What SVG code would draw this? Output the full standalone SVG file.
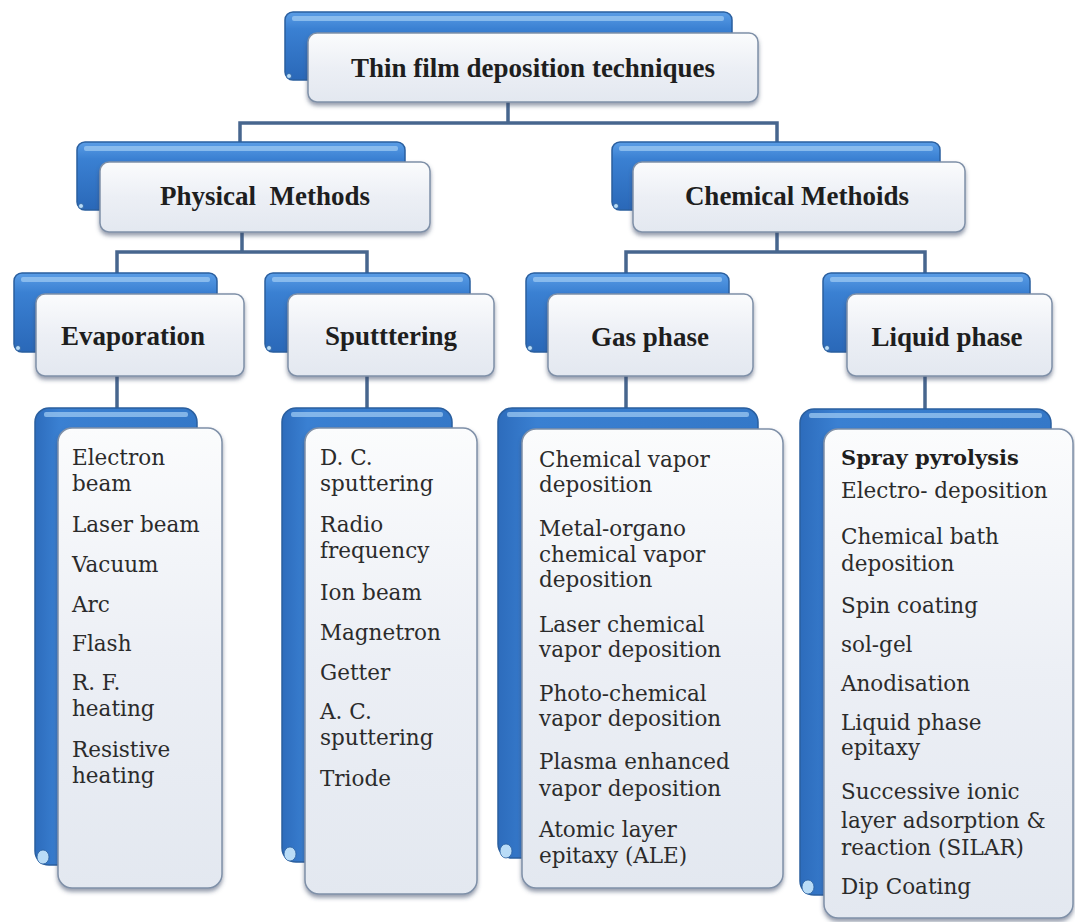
<svg xmlns="http://www.w3.org/2000/svg" width="1075" height="922" viewBox="0 0 1075 922">
<style>
.back{fill:url(#blueG);stroke:#2a5f9f;stroke-width:1.5}
.backL{fill:url(#blueL);stroke:#2a5f9f;stroke-width:1.5}
.hl{fill:#9cc8f2;opacity:0.75}
.curl{fill:#b9dcf7;stroke:#2a5f9f;stroke-width:0.8}
.front{fill:url(#whiteG);stroke:#7f90a8;stroke-width:1.5;filter:url(#sh)}
.hdr{font-family:"Liberation Serif",serif;font-weight:bold;font-size:27px;fill:#1e1e1e;text-anchor:middle}
.itm{font-family:"DejaVu Serif","Liberation Serif",serif;font-size:21.5px;fill:#2b2b2b}
.itm .b{font-weight:bold;font-size:21px;fill:#1e1e1e}
.conn{stroke:#47668e;stroke-width:3.5;fill:none}
</style>
<defs>
<linearGradient id="blueG" x1="0" y1="0" x2="0" y2="1">
<stop offset="0" stop-color="#5a9de6"/>
<stop offset="0.25" stop-color="#3a80d2"/>
<stop offset="1" stop-color="#2a68b8"/>
</linearGradient>
<linearGradient id="blueL" x1="0" y1="0" x2="1" y2="0">
<stop offset="0" stop-color="#2d6cbc"/>
<stop offset="0.15" stop-color="#3a80d2"/>
<stop offset="1" stop-color="#3478c8"/>
</linearGradient>
<linearGradient id="whiteG" x1="0" y1="0" x2="0" y2="1">
<stop offset="0" stop-color="#fbfcfd"/>
<stop offset="0.5" stop-color="#eceff5"/>
<stop offset="1" stop-color="#e3e8f0"/>
</linearGradient>
<filter id="sh" x="-10%" y="-10%" width="120%" height="130%">
<feDropShadow dx="0" dy="3" stdDeviation="2" flood-color="#3a4a66" flood-opacity="0.55"/>
</filter>
</defs>
<rect width="1075" height="922" fill="#ffffff"/>

<g id="connectors">
<path class="conn" d="M508 102V123M240 142V123H777V142"/>
<path class="conn" d="M242 232V252M117 273V252H367V273"/>
<path class="conn" d="M777 232V252M626 273V252H925V273"/>
<path class="conn" d="M117 376V408"/>
<path class="conn" d="M367 376V408"/>
<path class="conn" d="M626 376V408"/>
<path class="conn" d="M925 376V409"/>
</g>

<g id="node-root">
<rect class="back" x="285" y="12" width="447" height="68" rx="8"/>
<rect class="hl" x="292" y="16" width="432" height="5" rx="2"/>
<circle class="curl" cx="289" cy="76" r="2.5"/>
<rect class="front" x="308" y="33" width="450" height="69" rx="9"/>
<text class="hdr" x="533" y="77">Thin film deposition techniques</text>
</g>

<g id="node-physical">
<rect class="back" x="77" y="142" width="328" height="68" rx="8"/>
<rect class="hl" x="84" y="146" width="314" height="5" rx="2"/>
<circle class="curl" cx="81" cy="206" r="2.5"/>
<rect class="front" x="100" y="162" width="330" height="70" rx="9"/>
<text class="hdr" x="265" y="205" xml:space="preserve">Physical  Methods</text>
</g>

<g id="node-chemical">
<rect class="back" x="612" y="142" width="328" height="68" rx="8"/>
<rect class="hl" x="619" y="146" width="314" height="5" rx="2"/>
<circle class="curl" cx="616" cy="206" r="2.5"/>
<rect class="front" x="633" y="162" width="332" height="70" rx="9"/>
<text class="hdr" x="797" y="205">Chemical Methoids</text>
</g>

<g id="node-evaporation">
<rect class="back" x="14" y="273" width="203" height="79" rx="8"/>
<rect class="hl" x="21" y="277" width="189" height="5" rx="2"/>
<circle class="curl" cx="18" cy="348" r="2.5"/>
<rect class="front" x="36" y="294" width="208" height="82" rx="9"/>
<text class="hdr" x="133" y="345">Evaporation</text>
</g>

<g id="node-sputtering">
<rect class="back" x="265" y="273" width="205" height="79" rx="8"/>
<rect class="hl" x="272" y="277" width="191" height="5" rx="2"/>
<circle class="curl" cx="269" cy="348" r="2.5"/>
<rect class="front" x="288" y="294" width="206" height="82" rx="9"/>
<text class="hdr" x="391" y="345">Sputttering</text>
</g>

<g id="node-gas">
<rect class="back" x="526" y="273" width="203" height="79" rx="8"/>
<rect class="hl" x="533" y="277" width="189" height="5" rx="2"/>
<circle class="curl" cx="530" cy="348" r="2.5"/>
<rect class="front" x="548" y="294" width="205" height="82" rx="9"/>
<text class="hdr" x="650" y="346">Gas phase</text>
</g>

<g id="node-liquid">
<rect class="back" x="823" y="273" width="207" height="79" rx="8"/>
<rect class="hl" x="830" y="277" width="193" height="5" rx="2"/>
<circle class="curl" cx="827" cy="348" r="2.5"/>
<rect class="front" x="847" y="294" width="205" height="82" rx="9"/>
<text class="hdr" x="947" y="346">Liquid phase</text>
</g>

<g id="list-evaporation">
<rect class="backL" x="35" y="408" width="162" height="457" rx="14"/>
<rect class="hl" x="44" y="412" width="144" height="5" rx="2"/>
<ellipse class="curl" cx="43" cy="857" rx="6" ry="7"/>
<rect class="front" x="58" y="428" width="164" height="460" rx="14"/>
<text class="itm">
<tspan x="72" y="465">Electron</tspan>
<tspan x="72" y="491">beam</tspan>
<tspan x="72" y="532">Laser beam</tspan>
<tspan x="72" y="572">Vacuum</tspan>
<tspan x="72" y="612">Arc</tspan>
<tspan x="72" y="651">Flash</tspan>
<tspan x="72" y="690">R. F.</tspan>
<tspan x="72" y="716">heating</tspan>
<tspan x="72" y="757">Resistive</tspan>
<tspan x="72" y="783">heating</tspan>
</text>
</g>

<g id="list-sputtering">
<rect class="backL" x="282" y="408" width="170" height="454" rx="14"/>
<rect class="hl" x="291" y="412" width="152" height="5" rx="2"/>
<ellipse class="curl" cx="290" cy="854" rx="6" ry="7"/>
<rect class="front" x="305" y="428" width="172" height="466" rx="14"/>
<text class="itm">
<tspan x="320" y="465">D. C.</tspan>
<tspan x="320" y="491">sputtering</tspan>
<tspan x="320" y="532">Radio</tspan>
<tspan x="320" y="558">frequency</tspan>
<tspan x="320" y="600">Ion beam</tspan>
<tspan x="320" y="640">Magnetron</tspan>
<tspan x="320" y="680">Getter</tspan>
<tspan x="320" y="719">A. C.</tspan>
<tspan x="320" y="745">sputtering</tspan>
<tspan x="320" y="786">Triode</tspan>
</text>
</g>

<g id="list-gas">
<rect class="backL" x="498" y="408" width="260" height="450" rx="14"/>
<rect class="hl" x="507" y="412" width="242" height="5" rx="2"/>
<ellipse class="curl" cx="506" cy="851" rx="6" ry="7"/>
<rect class="front" x="522" y="429" width="261" height="459" rx="14"/>
<text class="itm">
<tspan x="539" y="467">Chemical vapor</tspan>
<tspan x="539" y="492">deposition</tspan>
<tspan x="539" y="536">Metal-organo</tspan>
<tspan x="539" y="562">chemical vapor</tspan>
<tspan x="539" y="587">deposition</tspan>
<tspan x="539" y="632">Laser chemical</tspan>
<tspan x="539" y="657">vapor deposition</tspan>
<tspan x="539" y="701">Photo-chemical</tspan>
<tspan x="539" y="726">vapor deposition</tspan>
<tspan x="539" y="769">Plasma enhanced</tspan>
<tspan x="539" y="796">vapor deposition</tspan>
<tspan x="539" y="837">Atomic layer</tspan>
<tspan x="539" y="863">epitaxy (ALE)</tspan>
</text>
</g>

<g id="list-liquid">
<rect class="backL" x="800" y="409" width="251" height="486" rx="14"/>
<rect class="hl" x="809" y="413" width="233" height="5" rx="2"/>
<ellipse class="curl" cx="808" cy="887" rx="6" ry="7"/>
<rect class="front" x="824" y="429" width="249" height="489" rx="14"/>
<text class="itm">
<tspan class="b" x="841" y="465">Spray pyrolysis</tspan>
<tspan x="841" y="498">Electro- deposition</tspan>
<tspan x="841" y="544">Chemical bath</tspan>
<tspan x="841" y="571">deposition</tspan>
<tspan x="841" y="613">Spin coating</tspan>
<tspan x="841" y="652">sol-gel</tspan>
<tspan x="841" y="691">Anodisation</tspan>
<tspan x="841" y="730">Liquid phase</tspan>
<tspan x="841" y="755">epitaxy</tspan>
<tspan x="841" y="799">Successive ionic</tspan>
<tspan x="841" y="828">layer adsorption &amp;</tspan>
<tspan x="841" y="855">reaction (SILAR)</tspan>
<tspan x="841" y="894">Dip Coating</tspan>
</text>
</g>
</svg>
